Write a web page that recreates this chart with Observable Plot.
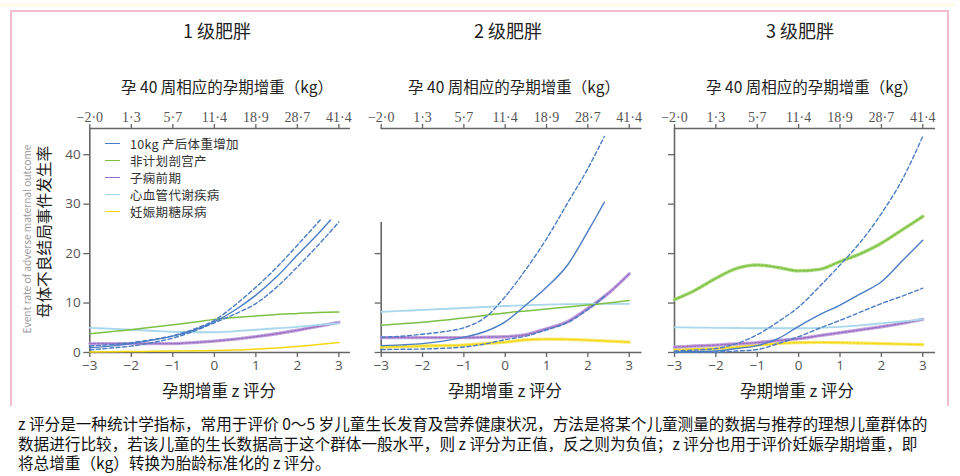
<!DOCTYPE html>
<html><head><meta charset="utf-8">
<script src="https://cdn.jsdelivr.net/npm/d3@7"></script>
<script src="https://cdn.jsdelivr.net/npm/@observablehq/plot@0.6"></script>
<style>
body{margin:0;width:960px;height:476px;position:relative;background:#fff;overflow:hidden;font-family:"Noto Sans CJK SC","Noto Sans",sans-serif;color:#222}
.abs{position:absolute;white-space:nowrap;line-height:1.1}
.c{transform:translate(-50%,-50%)}
#band{left:0;top:3px;width:955px;height:4px;background:#fffaea}
#frame{left:10px;top:10px;width:935px;height:394px;border:2px solid #f1bccb;border-bottom:none}
.title{font-size:18px;color:#222}
.ktitle{font-size:15.5px;color:#222}
.ztitle{font-size:16.5px;color:#222}
.abs.leg{font-size:12.5px;color:#333;line-height:1;letter-spacing:0.3px}
.legline{position:absolute;width:15px;height:0;border-top:1.6px solid}
#ylab{left:44px;top:232px;font-size:15.7px;transform:translate(-50%,-50%) rotate(-90deg)}
#yeng{left:27px;top:239px;font-size:10.2px;color:#9a9a9a;transform:translate(-50%,-50%) rotate(-90deg)}
.abs.capline{left:18px;color:#111;line-height:1}
.panel{position:absolute;top:95px}
</style></head><body>
<div id="band" class="abs"></div>
<div id="frame" class="abs"></div>
<div id="root"></div>
<script>
// ---------- data ----------
const zGrid = [-3,-2.5,-2,-1.5,-1,-0.5,0,0.5,1,1.5,2,2.5,3];
const zTicks = [-3,-2,-1,0,1,2,3];
const kgTickLabels = ["−2·0","1·3","5·7","11·4","18·9","28·7","41·4"];
const yTicks = [0,10,20,30,40];
const panelTitles = ["1 级肥胖","2 级肥胖","3 级肥胖"];
const topAxisTitle = "孕 40 周相应的孕期增重（kg）";
const bottomAxisTitle = "孕期增重 z 评分";
const yAxisTitle = "母体不良结局事件发生率";
const yAxisTitleEn = "Event rate of adverse maternal outcome";
const legendNames = ["10kg 产后体重增加","非计划剖宫产","子痫前期","心血管代谢疾病","妊娠期糖尿病"];
const captionLines = [
  "z 评分是一种统计学指标，常用于评价 0～5 岁儿童生长发育及营养健康状况，方法是将某个儿童测量的数据与推荐的理想儿童群体的",
  "数据进行比较，若该儿童的生长数据高于这个群体一般水平，则 z 评分为正值，反之则为负值；z 评分也用于评价妊娠孕期增重，即",
  "将总增重（kg）转换为胎龄标准化的 z 评分。"
];

// Panel 1 (class 1 obesity)
const p1_zBlue   = [-3,-2.5,-2,-1.5,-1,-0.5,0,0.5,1,1.5,2,2.5,2.8];
const p1_blue    = [0.95,1.3,1.8,2.5,3.3,4.5,6.2,8.6,11.6,15.3,19.7,24.0,26.8];
const p1_zBlueHi = [-3,-2.5,-2,-1.5,-1,-0.5,0,0.5,1,1.5,2,2.55];
const p1_blueHi  = [1.3,1.6,2.0,2.6,3.4,4.7,6.5,9.6,13.2,17.2,21.7,26.8];
const p1_blueLo  = [0.5,0.9,1.3,2.0,2.9,4.3,6.0,7.8,9.9,13.2,17.3,21.7,26.4];
const p1_green   = [3.8,4.2,4.6,5.1,5.6,6.1,6.7,7.1,7.4,7.7,7.9,8.1,8.2];
const p1_cyan    = [5.0,4.8,4.6,4.4,4.2,4.1,4.1,4.3,4.6,4.9,5.2,5.6,5.9];
const p1_purple  = [1.8,1.8,1.8,1.8,1.8,2.0,2.3,2.7,3.2,3.8,4.5,5.3,6.1];
const p1_yellow  = [0.1,0.15,0.2,0.25,0.3,0.35,0.4,0.5,0.7,0.9,1.2,1.6,2.0];

// Panel 2 (class 2 obesity)
const p2_zBlue   = [-3,-2.5,-2,-1.5,-1,-0.5,0,0.5,1,1.5,2,2.2,2.4];
const p2_blue    = [1.4,1.55,1.8,2.3,3.1,4.2,6.2,9.6,13.2,17.6,24.5,27.4,30.4];
const p2_blueHi  = [3.1,3.3,3.7,4.2,5.0,7.0,11.3,16.8,23.0,30.1,37.2,40.4,43.7];
const p2_blueLo  = [0.6,0.65,0.7,0.85,1.1,1.7,2.6,3.3,4.6,6.0,8.7,9.9,11.4];
const p2_green   = [5.5,5.8,6.1,6.5,7.0,7.5,8.0,8.4,8.8,9.2,9.6,10.0,10.5];
const p2_cyan    = [8.2,8.4,8.6,8.8,9.0,9.2,9.4,9.55,9.7,9.8,9.85,9.85,9.85];
const p2_purple  = [3.0,3.0,3.0,3.0,3.0,3.1,3.2,3.6,4.8,6.2,8.9,12.0,15.9];
const p2_yellow  = [1.1,1.2,1.3,1.4,1.5,1.8,2.1,2.55,2.7,2.65,2.5,2.3,2.1];

// Panel 3 (class 3 obesity)
const p3_blue    = [0.1,0.2,0.3,0.8,1.4,2.8,5.3,7.6,9.6,11.9,14.3,18.5,22.7];
const p3_blueHi  = [0.3,0.5,0.8,1.8,3.6,6.2,9.2,13.3,17.7,22.4,28.1,34.9,43.7];
const p3_blueLo  = [0.0,0.05,0.1,0.3,0.6,1.8,3.2,4.9,6.5,8.2,9.9,11.4,13.0];
const p3_green   = [10.7,12.6,15.0,17.0,17.7,17.2,16.5,16.8,18.4,20.0,22.1,24.8,27.5];
const p3_cyan    = [5.1,5.05,5.0,4.95,4.9,4.9,4.9,5.0,5.2,5.5,5.9,6.3,6.7];
const p3_purple  = [1.1,1.3,1.5,1.75,2.0,2.4,2.8,3.4,4.0,4.6,5.2,5.9,6.7];
const p3_yellow  = [0.6,0.7,0.8,1.1,1.5,1.8,2.0,2.05,2.0,1.9,1.8,1.7,1.6];

// ---------- styles ----------
const C = {blue:"#4a7cc3", green:"#7cc043", purple:"#9b6ec6", cyan:"#a9d8ec", yellow:"#f4d80c",
  greenLight:"#a8d878", purpleLight:"#c3a6de", yellowLight:"#f9e873", axis:"#666", tick:"#555"};
const legendColors = [C.blue, C.green, C.purple, C.cyan, C.yellow];

const pts = (zs, vs) => zs.map((z,i) => ({z, v: vs[i]}));

function plain(data, color, w=1.5) {
  return Plot.line(data, {x:"z", y:"v", stroke: color, strokeWidth: w, curve:"monotone-x"});
}
function dashed(data, color) {
  return Plot.line(data, {x:"z", y:"v", stroke: color, strokeWidth: 1.4, strokeDasharray:"4,2.6", curve:"monotone-x"});
}
function textured(data, light, dark) {
  return [
    Plot.line(data, {x:"z", y:"v", stroke: light, strokeWidth: 3.4, curve:"monotone-x"}),
    Plot.line(data, {x:"z", y:"v", stroke: dark, strokeWidth: 1.4, strokeDasharray:"2.2,1.6", curve:"monotone-x"})
  ];
}

const panels = [
  {left:0, width:360, ml:89.3, mr:10, xEnd:3.28, yAxisTop:45.3, yTicks:yTicks, yLabels:true,
   marks: [
     plain(pts(zGrid,p1_yellow), C.yellow, 1.5),
     textured(pts(zGrid,p1_purple), C.purpleLight, C.purple),
     plain(pts(zGrid,p1_cyan), C.cyan, 1.8),
     plain(pts(zGrid,p1_green), C.green, 1.5),
     dashed(pts(p1_zBlueHi,p1_blueHi), C.blue),
     dashed(pts(zGrid,p1_blueLo), C.blue),
     plain(pts(p1_zBlue,p1_blue), C.blue, 1.4)
   ]},
  {left:360, width:290, ml:20.7, mr:8.5, xEnd:3.31, yAxisTop:26.3, yTicks:[0,10,20], yLabels:false,
   marks: [
     textured(pts(zGrid,p2_yellow), C.yellowLight, C.yellow),
     textured(pts(zGrid,p2_purple), C.purpleLight, C.purple),
     plain(pts(zGrid,p2_cyan), C.cyan, 1.8),
     plain(pts(zGrid,p2_green), C.green, 1.5),
     dashed(pts(p2_zBlue,p2_blueHi), C.blue),
     dashed(pts(p2_zBlue,p2_blueLo), C.blue),
     plain(pts(p2_zBlue,p2_blue), C.blue, 1.4)
   ]},
  {left:650, width:300, ml:24, mr:14.9, xEnd:3.31, yAxisTop:45.3, yTicks:yTicks, yLabels:false,
   marks: [
     textured(pts(zGrid,p3_yellow), C.yellowLight, C.yellow),
     textured(pts(zGrid,p3_purple), C.purpleLight, C.purple),
     plain(pts(zGrid,p3_cyan), C.cyan, 1.8),
     textured(pts(zGrid,p3_green), C.greenLight, C.green),
     dashed(pts(zGrid,p3_blueHi), C.blue),
     dashed(pts(zGrid,p3_blueLo), C.blue),
     plain(pts(zGrid,p3_blue), C.blue, 1.4)
   ]}
];

const root = document.getElementById("root");
const yMax = 45.3;

panels.forEach((p, k) => {
  const chart = Plot.plot({
    width: p.width, height: 290,
    marginLeft: p.ml, marginRight: p.mr, marginTop: 33, marginBottom: 33,
    style: {fontFamily: "'Open Sans', sans-serif", fontSize: "13px", color: C.tick, background: "transparent", overflow: "visible"},
    x: {domain: [-3, p.xEnd]},
    y: {domain: [0, yMax]},
    marks: [
      Plot.axisX({anchor:"bottom", ticks: zTicks, tickSize: 5, tickPadding: 3, label: null,
        tickFormat: d => d < 0 ? "−" + (-d) : String(d), fontSize: 13.5, stroke: C.axis, fill: C.tick, strokeWidth: 1.3}),
      Plot.axisX({anchor:"top", ticks: zTicks, tickSize: 5, tickPadding: 2, label: null,
        tickFormat: (d, i) => kgTickLabels[zTicks.indexOf(d)], fontSize: 14, fontFamily: "'Liberation Serif', serif",
        stroke: C.axis, fill: C.tick, strokeWidth: 1.3}),
      Plot.axisY({anchor:"left", ticks: p.yTicks, tickSize: 6, tickPadding: 3, label: null,
        tickFormat: p.yLabels ? (d => String(d)) : (() => ""), fontSize: 13.5, stroke: C.axis, fill: C.tick, strokeWidth: 1.3}),
      Plot.ruleY([0], {stroke: C.axis, strokeWidth: 1.6}),
      Plot.ruleY([yMax], {stroke: C.axis, strokeWidth: 1.6}),
      Plot.ruleX([-3], {y1: 0, y2: p.yAxisTop, stroke: C.axis, strokeWidth: 1.6}),
      ...p.marks.flat()
    ]
  });
  chart.classList.add("panel");
  chart.style.left = p.left + "px";
  root.appendChild(chart);
});

// ---------- text ----------
function addText(txt, cls, x, y) {
  const d = document.createElement("div");
  d.className = "abs c " + cls;
  d.style.left = x + "px"; d.style.top = y + "px";
  d.textContent = txt;
  document.body.appendChild(d);
  return d;
}
const titleX = [217, 508, 800];
const ktitleX = [227, 514, 812];
const ztitleX = [219, 505, 797];
panelTitles.forEach((t, i) => {
  addText(t, "title", titleX[i], 31);
  addText(topAxisTitle, "ktitle", ktitleX[i], 87);
  addText(bottomAxisTitle, "ztitle", ztitleX[i], 390);
});

const yl = document.createElement("div");
yl.id = "yeng"; yl.className = "abs"; yl.textContent = yAxisTitleEn; document.body.appendChild(yl);
const yl2 = document.createElement("div");
yl2.id = "ylab"; yl2.className = "abs"; yl2.textContent = yAxisTitle; document.body.appendChild(yl2);

legendNames.forEach((n, i) => {
  const y = 143.5 + i * 17;
  const line = document.createElement("div");
  line.className = "legline";
  line.style.left = "105px"; line.style.top = (y - 0.8) + "px";
  line.style.borderTopColor = legendColors[i];
  document.body.appendChild(line);
  const t = document.createElement("div");
  t.className = "abs leg";
  t.style.left = "130px"; t.style.top = y + "px"; t.style.transform = "translateY(-50%)";
  t.textContent = n;
  document.body.appendChild(t);
});

// caption: three lines, first line fitted to the reference width
const capDivs = captionLines.map((s, i) => {
  const d = document.createElement("div");
  d.className = "abs capline";
  d.style.top = (424 + i * 19.5) + "px"; d.style.transform = "translateY(-50%)";
  d.style.fontSize = "15px";
  d.textContent = s;
  document.body.appendChild(d);
  return d;
});
const w0 = capDivs[0].getBoundingClientRect().width;
const fs = Math.min(16.5, 15 * 910 / w0);
capDivs.forEach(d => d.style.fontSize = fs + "px");
</script>
</body></html>
